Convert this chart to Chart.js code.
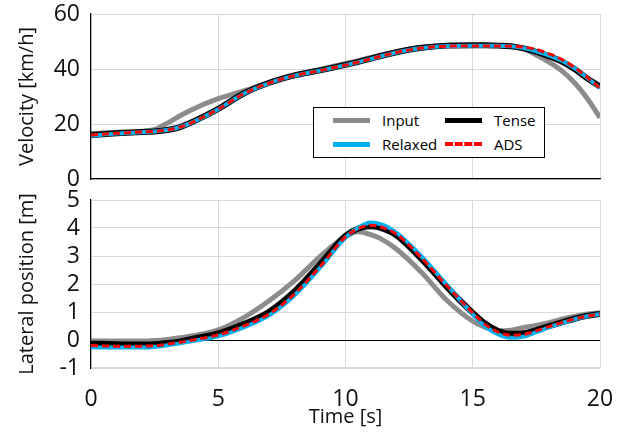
<!DOCTYPE html>
<html>
<head>
<meta charset="utf-8">
<script src="https://cdn.jsdelivr.net/npm/chart.js@4"></script>
<style>
  body { margin: 0; background: #fff; }
  #wrap { position: relative; width: 627px; height: 432px; font-family: "Open Sans", sans-serif; }
  #top { position: absolute; left: 0; top: 0; }
  #bottom { position: absolute; left: 0; top: 185px; }
  #legend {
    position: absolute; left: 313px; top: 107px; width: 230px; height: 49px;
    border: 1.5px solid #000; background: #fff; font-size: 15px; color: #000;
  }
  .item { position: absolute; display: flex; align-items: center; }
  .sw { width: 37px; height: 0; margin-right: 12px; }
</style>
</head>
<body>
<div id="wrap">
  <canvas id="top" width="627" height="192"></canvas>
  <canvas id="bottom" width="627" height="247"></canvas>
  <div id="legend">
    <div class="item" style="left:19px;top:2px"><span class="sw" style="border-top:5px solid #8c8c8c"></span>Input</div>
    <div class="item" style="left:131px;top:2px"><span class="sw" style="border-top:5px solid #000"></span>Tense</div>
    <div class="item" style="left:19px;top:26px"><span class="sw" style="border-top:5px solid #00b0f0"></span>Relaxed</div>
    <div class="item" style="left:131px;top:26px"><span class="sw" style="border-top:4px dashed #ff0000"></span>ADS</div>
  </div>
</div>
<script>
const times = [0, 1, 2, 2.5, 3, 3.5, 4, 5, 6, 7, 8, 9, 10, 10.5, 11, 11.5, 12, 13, 14, 15, 15.5, 16, 16.5, 17, 17.5, 18, 18.5, 19, 19.5, 20];

// velocity [km/h]
const velInput   = [16.5, 17.0, 17.3, 18.0, 20.3, 23.0, 25.4, 29.2, 32.0, 35.0, 37.8, 39.8, 42.0, 43.0, 44.2, 45.3, 46.3, 47.8, 48.5, 48.6, 48.6, 48.5, 48.2, 47.3, 45.1, 42.5, 39.3, 35.0, 29.3, 22.3];
const velRelaxed = [15.8, 16.5, 17.0, 17.3, 17.8, 18.9, 20.7, 25.4, 31.0, 34.9, 37.6, 39.4, 41.4, 42.5, 43.7, 44.9, 46.0, 47.6, 48.4, 48.5, 48.5, 48.5, 48.3, 47.6, 46.4, 44.9, 43.0, 40.3, 36.8, 33.0];
const velTense   = [16.0, 16.6, 17.1, 17.3, 17.8, 18.9, 20.8, 25.5, 31.1, 35.0, 37.7, 39.5, 41.5, 42.6, 43.8, 45.0, 46.1, 47.7, 48.5, 48.6, 48.6, 48.5, 48.3, 47.5, 46.2, 44.6, 42.7, 40.0, 36.6, 33.6];
const velADS     = [16.0, 16.6, 17.1, 17.3, 17.8, 18.9, 20.7, 25.4, 31.0, 34.9, 37.6, 39.4, 41.4, 42.5, 43.7, 44.9, 46.0, 47.6, 48.3, 48.4, 48.4, 48.4, 48.3, 48.0, 47.1, 45.5, 43.5, 40.5, 37.0, 33.0];

// lateral position [m]
const latInput   = [-0.04, -0.04, -0.04, -0.02, 0.02, 0.08, 0.15, 0.36, 0.80, 1.40, 2.12, 2.98, 3.70, 3.87, 3.76, 3.56, 3.25, 2.40, 1.40, 0.67, 0.45, 0.32, 0.35, 0.45, 0.52, 0.62, 0.74, 0.84, 0.93, 0.97];
const latRelaxed = [-0.26, -0.27, -0.27, -0.25, -0.19, -0.12, -0.04, 0.13, 0.45, 0.88, 1.60, 2.58, 3.66, 4.02, 4.20, 4.10, 3.84, 2.98, 1.95, 0.92, 0.48, 0.20, 0.08, 0.12, 0.28, 0.45, 0.60, 0.74, 0.85, 0.92];
const latTense   = [-0.13, -0.15, -0.16, -0.15, -0.11, -0.05, 0.05, 0.24, 0.57, 1.01, 1.74, 2.71, 3.72, 3.98, 4.06, 3.97, 3.74, 2.88, 1.88, 0.97, 0.58, 0.32, 0.22, 0.24, 0.35, 0.50, 0.63, 0.76, 0.86, 0.93];
const latADS     = [-0.20, -0.22, -0.22, -0.20, -0.15, -0.08, 0.00, 0.18, 0.50, 0.93, 1.65, 2.62, 3.68, 3.98, 4.10, 4.00, 3.78, 2.92, 1.92, 0.97, 0.55, 0.28, 0.17, 0.20, 0.33, 0.48, 0.62, 0.75, 0.85, 0.92];

const xTicks = [0, 5, 10, 15, 20];
const velTicks = [0, 20, 40, 60];
const latTicks = [-1, 0, 1, 2, 3, 4, 5];

const FONT = "'Open Sans', sans-serif";
const GRID = "#d9d9d9";

const pts = (ys) => ys.map((y, i) => ({ x: times[i], y }));

function makeDatasets(input, relaxed, tense, ads) {
  const base = { pointRadius: 0, cubicInterpolationMode: "monotone", fill: false };
  return [
    { ...base, label: "ADS", data: pts(ads), borderColor: "#ff0000", borderWidth: 3, borderDash: [7, 4], order: 0 },
    { ...base, label: "Relaxed", data: pts(relaxed), borderColor: "#00b0f0", borderWidth: 4, order: 1 },
    { ...base, label: "Tense", data: pts(tense), borderColor: "#000000", borderWidth: 6, order: 2 },
    { ...base, label: "Input", data: pts(input), borderColor: "#8c8c8c", borderWidth: 5, order: 3 },
  ];
}

function yScale(ticks, title, zeroDark) {
  return {
    min: ticks[0],
    max: ticks[ticks.length - 1],
    afterBuildTicks: (s) => { s.ticks = ticks.map((v) => ({ value: v })); },
    afterFit: (s) => { s.width = 91; s.paddingTop = 0; s.paddingBottom = 0; },
    border: { color: "#000", width: 1.2 },
    grid: {
      drawTicks: false,
      color: (c) => (zeroDark && c.tick && c.tick.value === 0 ? "#000" : GRID),
      lineWidth: 1,
    },
    ticks: { padding: 11, autoSkip: false, color: "#111", font: { family: FONT, size: 23 } },
    title: { display: true, text: title, color: "#111", font: { family: FONT, size: 20 }, padding: { top: 15, bottom: 0 } },
  };
}

function xScale(showLabels, borderColor, boxHeight) {
  return {
    type: "linear",
    min: 0,
    max: 20,
    afterBuildTicks: (s) => { s.ticks = xTicks.map((v) => ({ value: v })); },
    afterFit: (s) => { s.height = boxHeight; s.paddingLeft = 0; s.paddingRight = 0; },
    border: { color: borderColor, width: 1.2 },
    grid: { drawTicks: false, color: GRID, lineWidth: 1 },
    ticks: { display: showLabels, padding: 20, maxRotation: 0, color: "#111", font: { family: FONT, size: 23, lineHeight: 1 } },
    title: {
      display: showLabels,
      text: "Time [s]",
      color: "#111",
      font: { family: FONT, size: 20, lineHeight: 0.8 },
      padding: { top: 0, bottom: 0 },
    },
  };
}

const common = {
  responsive: false,
  animation: false,
  plugins: { legend: { display: false }, tooltip: { enabled: false } },
};

new Chart(document.getElementById("top").getContext("2d"), {
  type: "line",
  data: { datasets: makeDatasets(velInput, velRelaxed, velTense, velADS) },
  options: {
    ...common,
    layout: { padding: { left: 0, right: 27, top: 14, bottom: 13 } },
    scales: { x: xScale(false, "#000", 0), y: yScale(velTicks, "Velocity [km/h]", false) },
  },
});

new Chart(document.getElementById("bottom").getContext("2d"), {
  type: "line",
  data: { datasets: makeDatasets(latInput, latRelaxed, latTense, latADS) },
  options: {
    ...common,
    layout: { padding: { left: 0, right: 27, top: 15, bottom: 7 } },
    scales: { x: xScale(true, GRID, 57), y: yScale(latTicks, "Lateral position [m]", true) },
  },
});
</script>
</body>
</html>
